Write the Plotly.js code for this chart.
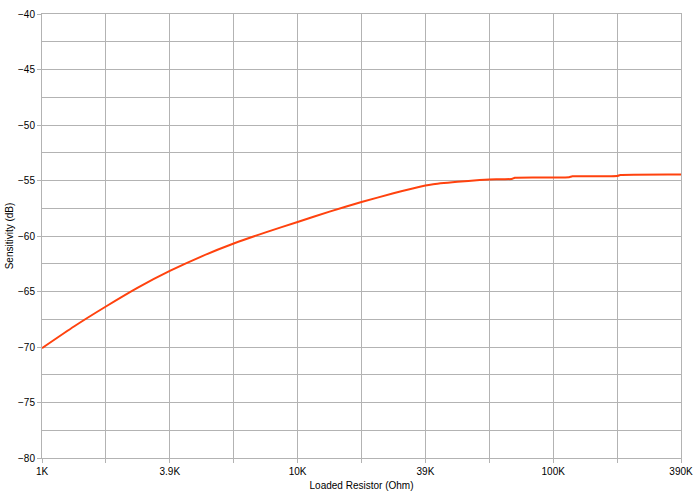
<!DOCTYPE html>
<html>
<head>
<meta charset="utf-8">
<script src="https://cdn.plot.ly/plotly-3.0.1.min.js"></script>
<style>html,body{margin:0;padding:0;background:#fff}#chart{width:700px;height:495px}</style>
</head>
<body>
<div id="chart"></div>
<script>
// Tick labels on the category-spaced resistor axis (every other grid position)
const tickPositions = [0, 2, 4, 6, 8, 10];
const tickLabels = ["1K", "3.9K", "10K", "39K", "100K", "390K"];

// Curve samples: position along the evenly spaced resistor axis, sensitivity in dB
const resistorPos = [0, 0.5, 1, 1.5, 2, 2.5, 3, 3.5, 4, 4.5, 5, 5.5, 6, 6.1, 6.5, 6.85, 7, 7.35, 7.4, 8, 8.25, 8.3, 9, 9.05, 10];
const sensitivityDb = [-70.1, -68.15, -66.35, -64.65, -63.15, -61.83, -60.68, -59.67, -58.74, -57.8, -56.94, -56.15, -55.45, -55.35, -55.12, -54.95, -54.9, -54.86, -54.76, -54.74, -54.71, -54.62, -54.6, -54.5, -54.45];

const grid = '#b3b3b3';
const font = {family: 'Liberation Sans, Arial, sans-serif', size: 10, color: '#000'};

Plotly.newPlot('chart', [{
  x: resistorPos,
  y: sensitivityDb,
  type: 'scatter',
  mode: 'lines',
  line: {color: '#ff420e', width: 2, shape: 'spline', smoothing: 0.5},
  hoverinfo: 'skip'
}], {
  width: 700, height: 495,
  margin: {l: 41.5, r: 19, t: 13.5, b: 37},
  paper_bgcolor: '#fff', plot_bgcolor: '#fff',
  font: font,
  showlegend: false,
  xaxis: {
    range: [0, 10],
    tickvals: tickPositions,
    ticktext: tickLabels,
    ticks: 'outside', ticklen: 4, tickcolor: grid, tickwidth: 1,
    showgrid: true, gridcolor: grid, gridwidth: 1,
    minor: {dtick: 1, tick0: 0, showgrid: true, gridcolor: grid, ticks: 'outside', ticklen: 4, tickcolor: grid},
    showline: true, linecolor: grid, linewidth: 1, mirror: true,
    zeroline: false,
    tickfont: font,
    title: {text: 'Loaded Resistor (Ohm)', font: font, standoff: 5}
  },
  yaxis: {
    range: [-80, -40],
    dtick: 5, tick0: -80,
    ticks: 'outside', ticklen: 4, tickcolor: grid, tickwidth: 1,
    showgrid: true, gridcolor: grid, gridwidth: 1,
    minor: {dtick: 2.5, tick0: -80, showgrid: true, gridcolor: grid, ticks: ''},
    showline: true, linecolor: grid, linewidth: 1, mirror: true,
    zeroline: false,
    tickfont: font,
    title: {text: 'Sensitivity (dB)', font: font, standoff: 2}
  }
}, {displayModeBar: false, staticPlot: true});
</script>
</body>
</html>
